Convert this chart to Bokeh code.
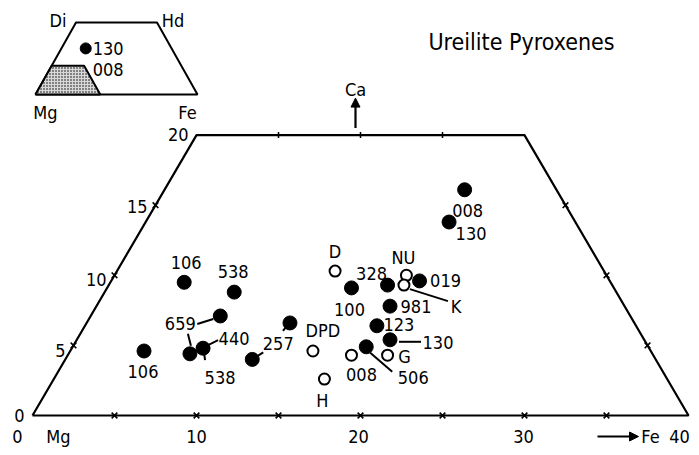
from bokeh.plotting import figure
from bokeh.models import Arrow, NormalHead
from bokeh.core.properties import value
from bokeh.embed import file_html
from bokeh.resources import INLINE
import numpy as np

# ---------------- data ----------------
FE_MAX = 40
CA_MAX = 20
bottom_tick_fe = [5, 10, 15, 20, 25, 30, 35]
side_tick_ca = [5, 10, 15]
top_tick_fe = [5, 10, 15]
bottom_label_fe = [0, 10, 20, 30, 40]
bottom_label_txt = ["0", "10", "20", "30", "40"]
left_label_ca = [0, 5, 10, 15, 20]
left_label_txt = ["0", "5", "10", "15", "20"]

# filled symbols (Fe, Ca)
filled_fe = [4.5, 7.9, 7.9, 4.5, 7.4, 8.0, 11.4, 12.4, 14.9, 17.0, 18.8, 17.9, 17.8, 19.1, 17.9, 18.3, 18.5]
filled_ca = [9.5, 8.8, 7.1, 4.6, 4.4, 4.8, 4.0, 6.6, 9.1, 9.3, 9.6, 7.8, 6.4, 5.4, 4.9, 16.1, 13.8]
filled_lab_idx = [0, 1, 2, 3, 5, 5, 6, 8, 9, 10, 11, 12, 13, 14, 15, 16]
filled_lab_txt = ["106", "538", "659", "106", "440", "538", "257", "100", "328", "019", "981", "123", "130", "506", "008", "130"]

# open symbols (Fe, Ca)
open_fe = [14.8, 13.3, 17.8, 18.0, 19.5, 17.3, 16.5]
open_ca = [4.6, 10.3, 10.0, 9.3, 4.3, 4.3, 2.6]
open_txt = ["DPD", "D", "NU", "K", "G", "008", "H"]

# inset quadrilateral (Fs, Wo): Mg, Fe, Hd, Di
inset_fs = [0, 100, 50, 0]
inset_wo = [0, 0, 50, 50]
inset_corner_txt = ["Mg", "Fe", "Hd", "Di"]
inset_pt_fs = [15]
inset_pt_wo = [32]
inset_pt_txt = ["130", "008"]

# ---------------- styles / layout ----------------
FONT = value("DejaVu Sans Condensed, DejaVu Sans")
FS = "18px"
W, H = 691, 447
PX0, PY0 = 32, 415
SX, SY = 16.4, 14.02
xmin = -PX0 / SX
xmax = xmin + W / SX
ymin = -(H - PY0) / SY
ymax = ymin + H / SY


def tx(fe, ca):
    return np.asarray(fe, float) + np.asarray(ca, float) / 2.0


def dx(px):
    return np.asarray(px, float) / SX


def dy(px):
    return -np.asarray(px, float) / SY


p = figure(width=W, height=H, x_range=(xmin, xmax), y_range=(ymin, ymax),
           output_backend="svg", toolbar_location=None, min_border=0,
           x_axis_type=None, y_axis_type=None)
p.grid.visible = False
p.outline_line_color = None
p.background_fill_color = "white"

# frame
ffe = [0, FE_MAX, FE_MAX - CA_MAX, 0, 0]
fca = [0, 0, CA_MAX, CA_MAX, 0]
p.line(tx(ffe, fca), fca, line_color="black", line_width=2.2)

# ticks
tick_kw = dict(marker="x", size=8, line_color="black", line_width=1.6)
p.scatter(tx(bottom_tick_fe, [0] * 7), [0] * 7, **tick_kw)
p.scatter(tx([0] * 3, side_tick_ca), side_tick_ca, **tick_kw)
p.scatter(tx([FE_MAX - c for c in side_tick_ca], side_tick_ca), side_tick_ca, **tick_kw)
p.scatter(tx(top_tick_fe, [CA_MAX] * 3), [CA_MAX] * 3, marker="dash", size=6, angle=np.pi / 2,
          line_color="black", line_width=1.5)

# axis labels
txt_kw = dict(text_font=FONT, text_font_size=FS, text_color="black", text_baseline="middle")
p.text(tx(bottom_label_fe, [0] * 5), [0] * 5, text=bottom_label_txt,
       x_offset=[-15, 0, -2, -1, -9], y_offset=21, text_align="center", **txt_kw)
p.text(tx([0] * 5, left_label_ca), left_label_ca, text=left_label_txt,
       x_offset=-8, y_offset=[0, 5, 4, 1, -1], text_align="right", **txt_kw)
p.text([0], [0], text=["Mg"], x_offset=26, y_offset=21, text_align="center", **txt_kw)
p.text([FE_MAX], [0], text=["Fe"], x_offset=-38, y_offset=21, text_align="center", **txt_kw)
p.add_layout(Arrow(end=NormalHead(size=9, fill_color="black", line_color="black"),
                   x_start=FE_MAX - dx(91), x_end=FE_MAX - dx(50), y_start=dy(21), y_end=dy(21),
                   line_width=2.2, line_color="black"))
xc = tx([FE_MAX / 2 - CA_MAX / 2], [CA_MAX])[0] - dx(5)
p.add_layout(Arrow(end=NormalHead(size=9, fill_color="black", line_color="black"),
                   x_start=xc, x_end=xc, y_start=CA_MAX + dy(-7), y_end=CA_MAX + dy(-37),
                   line_width=2.2, line_color="black"))
p.text([xc], [CA_MAX], text=["Ca"], x_offset=0, y_offset=-46, text_align="center", **txt_kw)

# title
p.text([FE_MAX - CA_MAX / 2], [CA_MAX], text=["Ureilite Pyroxenes"], x_offset=-3, y_offset=-93,
       text_align="center", text_font=FONT, text_font_size="23px", text_baseline="middle")

# leaders (point series, index, start px offset, end px offset)
leaders = [
    ("f", 2, (-23, 8), (-7, 3)),
    ("f", 4, (-2, -20), (1, -8)),
    ("f", 5, (5, -3), (15, -8)),
    ("f", 5, (1, 5), (2, 12)),
    ("f", 6, (3, -2), (11, -7)),
    ("f", 7, (-7, 8), (-3, 3)),
    ("f", 13, (9, 2), (31, 2)),
    ("f", 14, (4, 6), (26, 25)),
    ("o", 3, (6, 4), (44, 16)),
]
fx = tx(filled_fe, filled_ca)
fy = np.asarray(filled_ca, float)
ox = tx(open_fe, open_ca)
oy = np.asarray(open_ca, float)
x0s, y0s, x1s, y1s = [], [], [], []
for s, i, a, b in leaders:
    bx, by = (fx[i], fy[i]) if s == "f" else (ox[i], oy[i])
    x0s.append(bx + dx(a[0])); y0s.append(by + dy(a[1]))
    x1s.append(bx + dx(b[0])); y1s.append(by + dy(b[1]))
p.segment(x0s, y0s, x1s, y1s, line_color="black", line_width=2)

# points
p.scatter(fx, fy, marker="circle", size=14, fill_color="black", line_color="black")
p.scatter(ox, oy, marker="circle", size=11, fill_color="white", line_color="black", line_width=2)

# point labels
f_off_x = [2, -1, -40, -1, 31, 17, 26, -2, -16, 26, 26, 22, 48, 47, 3, 22]
f_off_y = [-20, -21, 8, 20, -10, 29, -16, 22, -12, 0, 0, -1, 3, 31, 21, 11]
p.text(fx[filled_lab_idx], fy[filled_lab_idx], text=filled_lab_txt, x_offset=f_off_x, y_offset=f_off_y,
       text_align="center", **txt_kw)
o_off_x = [10, 0, -3, 52, 17, 10, -2]
o_off_y = [-21, -20, -18, 21, 1, 19, 21]
p.text(ox, oy, text=open_txt, x_offset=o_off_x, y_offset=o_off_y, text_align="center", **txt_kw)

# ---------------- inset ----------------
IX0, IY0 = (35 - PX0) / SX, (PY0 - 94) / SY
ISX, ISY = 1.62 / SX, 1.44 / SY


def itx(fs, wo):
    return IX0 + ISX * tx(fs, wo)


def ity(wo):
    return IY0 + ISY * np.asarray(wo, float)


qfs = inset_fs + inset_fs[:1]
qwo = inset_wo + inset_wo[:1]
p.line(itx(qfs, qwo), ity(qwo), line_color="black", line_width=2)
sfe = [0, FE_MAX, FE_MAX - CA_MAX, 0]
sca = [0, 0, CA_MAX, CA_MAX]
p.patch(itx(sfe, sca), ity(sca), fill_color="#d9d9d9", line_color="black", line_width=2,
        hatch_pattern="dot", hatch_color="black", hatch_scale=3, hatch_weight=1)
p.scatter(itx(inset_pt_fs, inset_pt_wo), ity(inset_pt_wo), marker="circle", size=11,
          fill_color="black", line_color="black")
ipx = itx(inset_pt_fs, inset_pt_wo)[0]
ipy = ity(inset_pt_wo)[0]
p.text([ipx, ipx], [ipy, ipy], text=inset_pt_txt, x_offset=[7, 7], y_offset=[0, 21],
       text_align="left", **txt_kw)
cx = itx(inset_fs, inset_wo)
cy = ity(inset_wo)
p.text(cx, cy, text=inset_corner_txt, x_offset=[10, -10, 16, -18], y_offset=[18, 18, -2, -2],
       text_align="center", **txt_kw)

open("out.html", "w").write(file_html(p, INLINE))
